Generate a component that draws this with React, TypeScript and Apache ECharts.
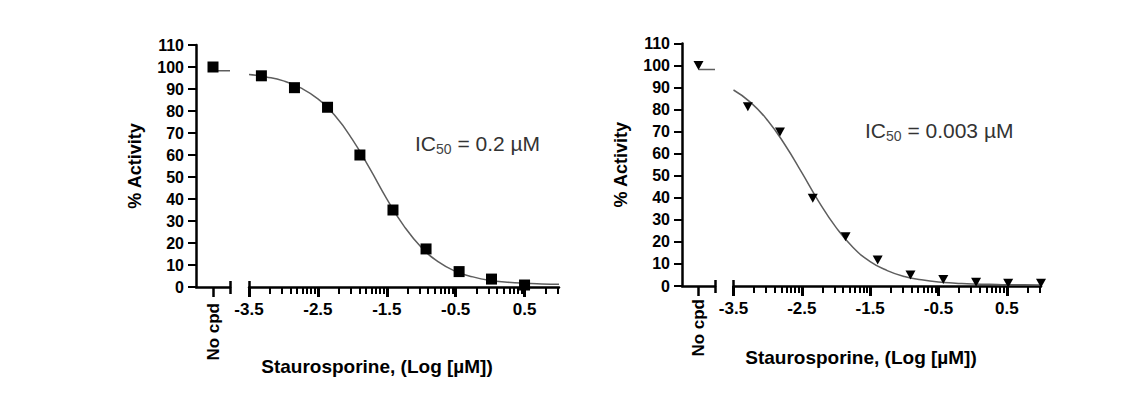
import React, { useEffect, useRef } from 'react';
import * as echarts from 'echarts';

// ---------- data ----------
const Y_MIN = 0;
const Y_MAX = 110;
const Y_INTERVAL = 10;
const X_MIN = -3.5;
const X_MAX = 1.0;
const MAJOR_TICKS = [-3.5, -2.5, -1.5, -0.5, 0.5];
const MAJOR_LABELS = ['-3.5', '-2.5', '-1.5', '-0.5', '0.5'];
const MINOR_OFFSETS = [0.301, 0.477, 0.602, 0.699, 0.778, 0.845, 0.903, 0.954];
const NO_CPD_LABEL = 'No cpd';
const X_TITLE = 'Staurosporine, (Log [µM])';
const Y_TITLE = '% Activity';

// left panel
const LEFT_X = [-3.32, -2.84, -2.36, -1.89, -1.41, -0.93, -0.45, 0.02, 0.5];
const LEFT_Y = [96.0, 90.6, 81.7, 60.0, 35.0, 17.3, 7.0, 3.6, 0.9];
const LEFT_FIT_X = [-3.5, -3.25, -3.0, -2.75, -2.5, -2.25, -2.0, -1.75, -1.5, -1.25, -1.0, -0.75, -0.5, -0.25, 0.0, 0.25, 0.5, 0.75, 1.0];
const LEFT_FIT_Y = [96.6, 95.5, 93.7, 90.5, 85.5, 77.8, 67.1, 54.0, 40.1, 27.7, 18.1, 11.4, 7.1, 4.6, 3.0, 2.2, 1.7, 1.4, 1.2];
const LEFT_NO_CPD = 100;
const LEFT_TOP = 98.3;
const LEFT_IC50 = '0.2 µM';

// right panel
const RIGHT_X = [-3.29, -2.82, -2.34, -1.86, -1.39, -0.91, -0.43, 0.05, 0.52, 1.0];
const RIGHT_Y = [81.3, 69.9, 39.8, 22.3, 11.8, 5.0, 3.0, 1.7, 1.2, 1.2];
const RIGHT_FIT_X = [-3.5, -3.25, -3.0, -2.75, -2.5, -2.25, -2.0, -1.75, -1.5, -1.25, -1.0, -0.75, -0.5, -0.25, 0.0, 0.25, 0.5, 0.75, 1.0];
const RIGHT_FIT_Y = [88.9, 83.3, 75.1, 64.2, 51.4, 38.2, 26.6, 17.5, 11.1, 7.0, 4.3, 2.8, 1.8, 1.3, 0.9, 0.8, 0.6, 0.6, 0.5];
const RIGHT_NO_CPD = 100;
const RIGHT_TOP = 98.2;
const RIGHT_IC50 = '0.003 µM';

// ---------- styling ----------
const FONT = "'Liberation Sans', Arial, Helvetica, sans-serif";
const INK = '#000000';
const CURVE = '#5e5e5e';
const AXIS_W = 2.5;

const MINOR_TICKS = MAJOR_TICKS.flatMap((d) => MINOR_OFFSETS.map((o) => +(d + o).toFixed(3))).filter(
  (v) => v <= X_MAX + 1e-9
);

type Panel = {
  top: number;
  height: number;
  noCpdLeft: number;
  noCpdWidth: number;
  mainLeft: number;
  mainWidth: number;
  xs: number[];
  ys: number[];
  fitX: number[];
  fitY: number[];
  noCpd: number;
  topValue: number;
  symbol: string;
  symbolSize: number | number[];
  symbolRotate: number;
  noCpdMargin: number;
};

function hiddenX(gridIndex: number, min: number, max: number, ticks: number[], length: number, inside: boolean, width = 2) {
  return {
    type: 'value',
    gridIndex,
    min,
    max,
    position: 'bottom',
    axisLine: { show: false },
    axisTick: { show: true, inside, length, customValues: ticks, lineStyle: { color: INK, width } },
    axisLabel: { show: false, customValues: ticks },
    splitLine: { show: false },
  };
}

function buildPanel(p: Panel, gridBase: number) {
  const g0 = gridBase;
  const g1 = gridBase + 1;
  const grids = [
    { left: p.noCpdLeft, top: p.top, width: p.noCpdWidth, height: p.height },
    { left: p.mainLeft, top: p.top, width: p.mainWidth, height: p.height },
  ];
  const xAxes: any[] = [
    {
      type: 'value',
      gridIndex: g0,
      min: 0,
      max: 1,
      position: 'bottom',
      axisLine: { show: true, lineStyle: { color: INK, width: AXIS_W } },
      axisTick: { show: true, length: 10, customValues: [0.5], lineStyle: { color: INK, width: 2.5 } },
      axisLabel: {
        show: true,
        customValues: [0.5],
        formatter: () => NO_CPD_LABEL,
        rotate: 90,
        margin: p.noCpdMargin,
        fontFamily: FONT,
        fontWeight: 'bold',
        fontSize: 17,
        color: INK,
      },
      splitLine: { show: false },
    },
    hiddenX(g0, 0, 1, [1], 7, false, 2.5),
    hiddenX(g0, 0, 1, [1], 6, true, 2.5),
    {
      type: 'value',
      gridIndex: g1,
      min: X_MIN,
      max: X_MAX,
      position: 'bottom',
      axisLine: { show: true, lineStyle: { color: INK, width: AXIS_W } },
      axisTick: { show: true, length: 10, customValues: MAJOR_TICKS, lineStyle: { color: INK, width: 3 } },
      axisLabel: {
        show: true,
        customValues: MAJOR_TICKS,
        formatter: (v: number) => MAJOR_LABELS[MAJOR_TICKS.indexOf(v)] ?? String(v),
        margin: 14,
        fontFamily: FONT,
        fontWeight: 'bold',
        fontSize: 17,
        color: INK,
      },
      splitLine: { show: false },
    },
    hiddenX(g1, X_MIN, X_MAX, MINOR_TICKS, 7, false, 2),
    hiddenX(g1, X_MIN, X_MAX, [X_MIN], 6, true, 2.5),
  ];
  const yAxes: any[] = [
    {
      type: 'value',
      gridIndex: g0,
      min: Y_MIN,
      max: Y_MAX,
      interval: Y_INTERVAL,
      position: 'left',
      axisLine: { show: true, lineStyle: { color: INK, width: AXIS_W } },
      axisTick: { show: true, length: 8, lineStyle: { color: INK, width: 2 } },
      axisLabel: { margin: 12, fontFamily: FONT, fontWeight: 'bold', fontSize: 16, color: INK },
      splitLine: { show: false },
      name: Y_TITLE,
      nameLocation: 'middle',
      nameRotate: 90,
      nameGap: 52,
      nameTextStyle: { fontFamily: FONT, fontWeight: 'bold', fontSize: 18, color: INK },
    },
    { type: 'value', gridIndex: g1, min: Y_MIN, max: Y_MAX, show: false },
  ];
  return { grids, xAxes, yAxes, p };
}

function panelSeries(p: Panel, xBase: number, yBase: number) {
  const xNo = xBase;
  const xMain = xBase + 3;
  const yNo = yBase;
  const yMain = yBase + 1;
  const marker = {
    symbol: p.symbol,
    symbolSize: p.symbolSize,
    symbolRotate: p.symbolRotate,
    itemStyle: { color: '#000', opacity: 1 },
  };
  return [
    {
      type: 'line',
      xAxisIndex: xNo,
      yAxisIndex: yNo,
      data: [
        [0.5, p.topValue],
        [1, p.topValue],
      ],
      showSymbol: false,
      symbol: 'none',
      lineStyle: { color: CURVE, width: 1.5 },
      z: 2,
    },
    {
      type: 'line',
      xAxisIndex: xMain,
      yAxisIndex: yMain,
      data: p.fitX.map((x, i) => [x, p.fitY[i]]),
      smooth: 0.5,
      showSymbol: false,
      symbol: 'none',
      lineStyle: { color: CURVE, width: 1.5 },
      z: 2,
    },
    {
      type: 'scatter',
      xAxisIndex: xNo,
      yAxisIndex: yNo,
      data: [[0.5, p.noCpd]],
      clip: false,
      z: 3,
      ...marker,
    },
    {
      type: 'scatter',
      xAxisIndex: xMain,
      yAxisIndex: yMain,
      data: p.xs.map((x, i) => [x, p.ys[i]]),
      clip: false,
      z: 3,
      ...marker,
    },
  ];
}

function ic50Text(x: number, y: number, value: string) {
  return {
    type: 'text',
    x,
    y,
    style: {
      text: `{a|IC}{s|50}{a| = ${value}}`,
      fill: '#333',
      align: 'left',
      verticalAlign: 'middle',
      fontFamily: FONT,
      rich: {
        a: { fontFamily: FONT, fontSize: 21, lineHeight: 25, fill: '#333' },
        s: { fontFamily: FONT, fontSize: 14, lineHeight: 14, verticalAlign: 'bottom', fill: '#444' },
      },
    },
  };
}

function xTitle(x: number, y: number) {
  return {
    type: 'text',
    x,
    y,
    style: {
      text: X_TITLE,
      fill: INK,
      align: 'center',
      verticalAlign: 'middle',
      fontFamily: FONT,
      fontWeight: 'bold',
      fontSize: 19,
    },
  };
}

export default function App() {
  const ref = useRef<HTMLDivElement>(null);
  useEffect(() => {
    if (!ref.current) return;
    const chart = echarts.init(ref.current, undefined, { renderer: 'svg' });

    const leftPanel: Panel = {
      top: 45,
      height: 242,
      noCpdLeft: 196,
      noCpdWidth: 34,
      mainLeft: 249,
      mainWidth: 310,
      xs: LEFT_X,
      ys: LEFT_Y,
      fitX: LEFT_FIT_X,
      fitY: LEFT_FIT_Y,
      noCpd: LEFT_NO_CPD,
      topValue: LEFT_TOP,
      symbol: 'rect',
      symbolSize: 11,
      symbolRotate: 0,
      noCpdMargin: 16,
    };
    const rightPanel: Panel = {
      top: 43.5,
      height: 242.5,
      noCpdLeft: 682,
      noCpdWidth: 33,
      mainLeft: 733.5,
      mainWidth: 307.5,
      xs: RIGHT_X,
      ys: RIGHT_Y,
      fitX: RIGHT_FIT_X,
      fitY: RIGHT_FIT_Y,
      noCpd: RIGHT_NO_CPD,
      topValue: RIGHT_TOP,
      symbol: 'triangle',
      symbolSize: [10, 9],
      symbolRotate: 180,
      noCpdMargin: 13,
    };

    const L = buildPanel(leftPanel, 0);
    const R = buildPanel(rightPanel, 2);

    const option: any = {
      animation: false,
      backgroundColor: '#ffffff',
      grid: [...L.grids, ...R.grids].map((g) => ({ ...g, containLabel: false, outerBoundsMode: 'none' })),
      xAxis: [...L.xAxes, ...R.xAxes],
      yAxis: [...L.yAxes, ...R.yAxes],
      series: [...panelSeries(leftPanel, 0, 0), ...panelSeries(rightPanel, 6, 2)],
      graphic: [
        xTitle(377, 366),
        xTitle(861, 357),
        ic50Text(415, 143, LEFT_IC50),
        ic50Text(865, 130, RIGHT_IC50),
      ],
    };
    chart.setOption(option);
    return () => chart.dispose();
  }, []);
  return (
    <div
      ref={ref}
      style={{ position: 'absolute', left: 0, top: 0, width: 1139, height: 395, background: '#fff' }}
    />
  );
}
